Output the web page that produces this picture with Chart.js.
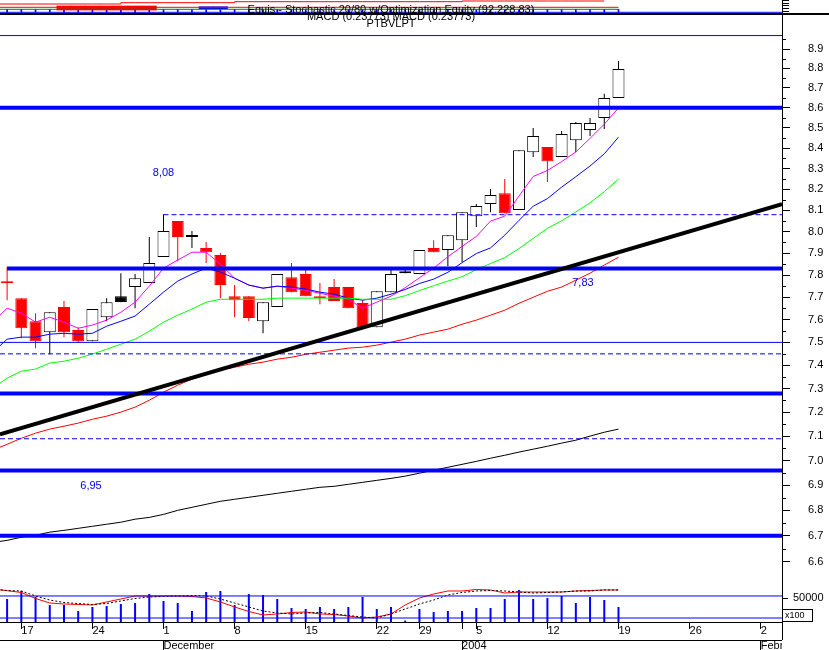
<!DOCTYPE html>
<html>
<head>
<meta charset="utf-8">
<script src="https://cdn.jsdelivr.net/npm/chart.js@4.4.1/dist/chart.umd.min.js"></script>
<style>
  html, body { margin: 0; padding: 0; background: #fff; overflow: hidden; }
  #page { position: relative; width: 829px; height: 650px; overflow: hidden;
          font-family: "Liberation Sans", Arial, sans-serif; }
  canvas { position: absolute; left: 0; }
  .cap { position: absolute; left: 0; width: 782px; text-align: center; font-size: 11px;
         line-height: 12px; color: #000; white-space: nowrap; }
  .rule { position: absolute; background: #000; }
  #x100 { position: absolute; left: 782px; top: 609px; width: 27px; height: 11px; border: 1px solid #000;
          font-size: 9px; line-height: 11px; padding-left: 2px; box-sizing: content-box; }
</style>
</head>
<body>
<div id="page">
  <canvas id="strip" width="829" height="13" style="top:0"></canvas>
  <canvas id="price" width="829" height="568" style="top:16px"></canvas>
  <canvas id="vol" width="829" height="66" style="top:584px"></canvas>
  <div class="rule" style="left:0; top:13px; width:829px; height:2px"></div>
  <div class="rule" style="left:782px; top:0; width:1px; height:640px"></div>
  <div class="cap" style="top:3px">Equis - Stochastic 20/80 w/Optimization Equity (92,228.83)</div>
  <div class="cap" style="top:10px">MACD (0.23773) MACD (0.23773)</div>
  <div class="cap" style="top:17px">PTBVLPT</div>
  <div id="x100">x100</div>
</div>
<script>
// --- trading days shown, then the empty days up to the right edge ---
const dates = ['2003-11-14', '2003-11-17', '2003-11-18', '2003-11-19', '2003-11-20', '2003-11-21',
  '2003-11-24', '2003-11-25', '2003-11-26', '2003-11-27', '2003-11-28',
  '2003-12-01', '2003-12-02', '2003-12-03', '2003-12-04', '2003-12-05',
  '2003-12-08', '2003-12-09', '2003-12-10', '2003-12-11', '2003-12-12',
  '2003-12-15', '2003-12-16', '2003-12-17', '2003-12-18', '2003-12-19',
  '2003-12-22', '2003-12-23', '2003-12-24', '2003-12-29', '2003-12-30', '2003-12-31',
  '2004-01-02', '2004-01-05', '2004-01-06', '2004-01-07', '2004-01-08', '2004-01-09',
  '2004-01-12', '2004-01-13', '2004-01-14', '2004-01-15', '2004-01-16', '2004-01-19'];
const futureDates = ['2004-01-20', '2004-01-21', '2004-01-22', '2004-01-23', '2004-01-26',
  '2004-01-27', '2004-01-28', '2004-01-29', '2004-01-30', '2004-02-02', '2004-02-03'];

const open = [7.764, 7.696, 7.593, 7.545, 7.656, 7.554, 7.505, 7.611, 7.705, 7.746, 7.764,
  7.883, 8.050, 7.975, 7.924, 7.892, 7.705, 7.705, 7.593, 7.656, 7.791, 7.805, 7.700, 7.746,
  7.746, 7.674, 7.567, 7.723, 7.818, 7.805, 7.924, 7.915, 7.961, 8.073, 8.130, 8.182, 8.102,
  8.380, 8.405, 8.356, 8.439, 8.489, 8.549, 8.649];
const high = [7.837, 7.696, 7.629, 7.633, 7.683, 7.567, 7.647, 7.696, 7.809, 7.805, 7.975,
  8.082, 8.050, 8.003, 7.952, 7.901, 7.755, 7.705, 7.678, 7.805, 7.855, 7.823, 7.764, 7.782,
  7.746, 7.687, 7.727, 7.832, 7.832, 7.915, 7.961, 7.984, 8.092, 8.130, 8.202, 8.250, 8.390,
  8.499, 8.405, 8.484, 8.529, 8.549, 8.671, 8.838];
const low = [7.687, 7.518, 7.474, 7.448, 7.523, 7.501, 7.505, 7.593, 7.678, 7.651, 7.764,
  7.883, 7.864, 7.924, 7.855, 7.696, 7.611, 7.593, 7.540, 7.656, 7.723, 7.705, 7.669, 7.683,
  7.651, 7.567, 7.567, 7.723, 7.809, 7.805, 7.905, 7.841, 7.859, 8.022, 8.092, 8.087, 8.102,
  8.356, 8.235, 8.356, 8.380, 8.459, 8.494, 8.649];
const close = [7.763, 7.562, 7.505, 7.633, 7.545, 7.505, 7.647, 7.678, 7.679, 7.786, 7.855,
  8.003, 7.975, 7.984, 7.905, 7.755, 7.687, 7.607, 7.678, 7.805, 7.723, 7.705, 7.696, 7.683,
  7.651, 7.567, 7.727, 7.805, 7.809, 7.915, 7.905, 7.984, 8.092, 8.121, 8.173, 8.087, 8.390,
  8.459, 8.336, 8.469, 8.524, 8.524, 8.649, 8.797];
// volume in hundreds
const volume = [47900, 64600, 52100, 35400, 35400, 22900, 31300, 33300, 37500, 39600,
  58300, 43800, 39600, 22900, 62500, 64600, 35400, 58300, 56300, 47900,
  29200, 27100, 31300, 27100, 31300, 52100, 27100, 31300, 3000, 27100,
  20800, 22900, 22900, 29200, 29200, 47900, 66700, 47900, 50000, 54200,
  39600, 52100, 45800, 31300];

// averages: the first value is for the day before the first candle (off the left edge)
const pinkMav = [7.589, 7.651, 7.629, 7.589, 7.611, 7.589, 7.562, 7.576, 7.598, 7.633, 7.678,
  7.750, 7.832, 7.869, 7.905, 7.905, 7.850, 7.786, 7.755, 7.741, 7.750, 7.741, 7.732, 7.718,
  7.705, 7.691, 7.651, 7.678, 7.705, 7.743, 7.788, 7.832, 7.884, 7.932, 7.978, 8.050, 8.073,
  8.168, 8.262, 8.291, 8.334, 8.381, 8.448, 8.518, 8.599];
const blueMav = [7.457, 7.514, 7.523, 7.523, 7.536, 7.540, 7.536, 7.540, 7.571, 7.593, 7.616,
  7.669, 7.723, 7.773, 7.805, 7.832, 7.814, 7.786, 7.755, 7.741, 7.750, 7.746, 7.737, 7.723,
  7.714, 7.696, 7.687, 7.696, 7.714, 7.735, 7.762, 7.782, 7.813, 7.857, 7.899, 7.925, 7.984,
  8.053, 8.120, 8.156, 8.211, 8.261, 8.313, 8.372, 8.454];
const greenMav = [7.302, 7.345, 7.375, 7.384, 7.410, 7.418, 7.431, 7.449, 7.470, 7.492, 7.514,
  7.549, 7.589, 7.620, 7.647, 7.678, 7.691, 7.691, 7.691, 7.691, 7.696, 7.696, 7.696, 7.696,
  7.696, 7.696, 7.691, 7.691, 7.691, 7.707, 7.730, 7.752, 7.773, 7.793, 7.825, 7.853, 7.880,
  7.922, 7.969, 8.016, 8.051, 8.093, 8.136, 8.189, 8.250];
const redMav = [7.043, 7.067, 7.092, 7.113, 7.130, 7.142, 7.155, 7.171, 7.184, 7.201, 7.222,
  7.251, 7.285, 7.315, 7.341, 7.362, 7.379, 7.392, 7.405, 7.414, 7.427, 7.435, 7.448, 7.457,
  7.466, 7.475, 7.479, 7.488, 7.501, 7.514, 7.532, 7.545, 7.558, 7.580, 7.598, 7.620, 7.642,
  7.673, 7.700, 7.727, 7.746, 7.777, 7.809, 7.846, 7.882];
const blackMav = [6.674, 6.682, 6.694, 6.702, 6.714, 6.721, 6.729, 6.737, 6.745, 6.753, 6.765,
  6.772, 6.784, 6.800, 6.812, 6.824, 6.836, 6.844, 6.852, 6.860, 6.868, 6.876, 6.884, 6.892,
  6.896, 6.904, 6.912, 6.920, 6.928, 6.937, 6.949, 6.961, 6.973, 6.985, 6.997, 7.010, 7.022,
  7.035, 7.047, 7.059, 7.072, 7.084, 7.101, 7.117, 7.130];
const volRed = [68750, 65200, 61500, 49000, 39600, 37500, 36500, 35400, 41700, 47900, 54200,
  54200, 54200, 54200, 53100, 50000, 41700, 31300, 21900, 14600, 16700, 19800, 20800, 16700,
  15600, 12500, 8300, 10400, 16700, 35400, 50000, 58300, 64600, 64600, 67700, 66700, 60400,
  62500, 62500, 62500, 62500, 64600, 65600, 66700, 66700];
const volDotted = [68750, 65600, 64600, 54200, 45800, 40600, 38500, 36500, 38500, 43800, 49000,
  52100, 53100, 54200, 55200, 54200, 47900, 39600, 31300, 22900, 18800, 16700, 18800, 19800,
  16700, 13500, 10400, 8300, 16700, 27100, 37500, 45800, 56300, 61500, 64600, 65600, 64600,
  62500, 60400, 61500, 62500, 64600, 64600, 66700, 66700];

// drawn price levels
const thickLevels = [8.6, 7.83, 7.28, 6.96, 6.7];
const thinLevels = [8.97, 7.5];
const dashedLevels = [8.08, 7.45, 7.09];
const levelStart = { 8.08: '2003-12-01', 7.83: '2003-11-14' };
const trendEnds = [7.108, 8.13];   // trend line value at the left and right edge
const volLevels = [54200, 8300];
const notes = [{ text: '8,08', at: 11, price: 8.279 },
               { text: '7,83', at: 40.5, price: 7.764 },
               { text: '6,95', at: 5.9, price: 6.896 }];

const priceTicks = [6.6, 6.7, 6.8, 6.9, 7.0, 7.1, 7.2, 7.3, 7.4, 7.5, 7.6, 7.7,
  7.8, 7.9, 8.0, 8.1, 8.2, 8.3, 8.4, 8.5, 8.6, 8.7, 8.8, 8.9];
const volTicks = [50000];

// system strip on top (indicator units, no scale shown)
const equity = [9, 9, 9, 9, 9, 9, 9, 9, 9, 10.3, 10.3, 10.3, 10.3, 10.3, 10.3, 10.3, 10.3,
  11.3, 11.3, 11.3, 11.3, 11.3, 11.3, 11.3, 11.3, 11.3, 11.3, 11.3, 11.3, 11.3, 11.3, 11.3, 11.3,
  12, 12, 12, 12, 12, 12, 12, 12, 12, 12, 12];
const redSignal = 5.7;
const greenSignal = 3.7;
const sellBand = ['2003-11-20', '2003-11-21', '2003-11-24', '2003-11-25', '2003-11-26', '2003-11-27', '2003-11-28'];
const buyBand = ['2003-12-04', '2003-12-05'];

/* ---------------------------------------------------------- */
const family = '"Liberation Sans", Arial, sans-serif';
const allDates = dates.concat(futureDates);
const xMin = -0.5, xMax = allDates.length - 0.5;
const weekday = d => new Date(d + 'T00:00:00Z').getUTCDay();
const month = d => d.slice(0, 7);
const monthNames = ['January', 'February', 'March', 'April', 'May', 'June', 'July',
  'August', 'September', 'October', 'November', 'December'];
const monthTicks = allDates.map((d, i) => i).filter(i => i > 0 && month(allDates[i]) !== month(allDates[i - 1]));
const dayTicks = allDates.map((d, i) => i).filter(i => weekday(allDates[i]) === 1 || monthTicks.includes(i));

const tone = close.map((c, i) => (i > 0 && c >= close[i - 1]) ? '#000000' : '#ff0000');
const mav = arr => arr.map((v, i) => ({ x: i - 1, y: v }));
const flat = (v, from) => [{ x: from, y: v }, { x: xMax, y: v }];
const startOf = v => levelStart[v] ? dates.indexOf(levelStart[v]) : xMin;

const base = {
  responsive: false, animation: false, events: [],
  layout: { padding: 0 },
  plugins: { legend: { display: false }, tooltip: { enabled: false } }
};
const hiddenX = { type: 'linear', min: xMin, max: xMax, offset: false, display: false };
const rightFit = s => { s.width = 47; s.paddingTop = 0; s.paddingBottom = 0; };

/* --- top strip --- */
new Chart(document.getElementById('strip'), {
  type: 'line',
  data: { datasets: [
    { data: equity.map((v, i) => ({ x: i - 1, y: v })), stepped: true, borderColor: '#ff0000', borderWidth: 1, pointRadius: 0 },
    { data: flat(redSignal, xMin).map((p, i) => i ? { x: dates.length - 1, y: p.y } : p), borderColor: '#ff0000', borderWidth: 1, pointRadius: 0 },
    { data: flat(greenSignal, xMin).map((p, i) => i ? { x: dates.length - 1, y: p.y } : p), borderColor: '#008000', borderWidth: 1, pointRadius: 0 },
    { data: flat(0.7, xMin), borderColor: '#0000ff', borderWidth: 1, pointRadius: 0 },
    { type: 'bar', grouped: false, data: sellBand.map(d => ({ x: dates.indexOf(d), y: [3, 7] })),
      backgroundColor: '#ff0000', barPercentage: 1, categoryPercentage: 1 },
    { type: 'bar', grouped: false, data: buyBand.map(d => ({ x: dates.indexOf(d), y: [4.3, 6.3] })),
      backgroundColor: '#0000ff', barPercentage: 1, categoryPercentage: 1 },
    { type: 'bar', grouped: false, data: dates.map((d, i) => ({ x: i, y: [0.7, 3.7] })),
      backgroundColor: '#0000ff', barThickness: 1 }
  ] },
  options: { ...base, scales: {
    x: hiddenX,
    y: { position: 'right', min: 0, max: 13, afterFit: rightFit,
         afterBuildTicks: s => { s.ticks = [2, 4.7, 7.3, 9.7, 12].map(v => ({ value: v })); },
         grid: { drawOnChartArea: false, tickLength: 7, color: '#000' },
         border: { color: '#000' }, ticks: { display: false } }
  } }
});

/* --- price pane --- */
const priceExtras = {
  id: 'priceExtras',
  afterDraw(chart) {
    const { ctx, scales: { x, y } } = chart;
    ctx.save();
    ctx.strokeStyle = '#000';
    ctx.lineWidth = 1;
    priceTicks.forEach(t => {
      const py = Math.round(y.getPixelForValue(t + 0.05)) + 0.5;
      ctx.beginPath(); ctx.moveTo(y.left, py); ctx.lineTo(y.left + 4, py); ctx.stroke();
    });
    ctx.fillStyle = '#0000ff';
    ctx.font = '11px ' + family;
    ctx.textAlign = 'center';
    ctx.textBaseline = 'middle';
    notes.forEach(n => ctx.fillText(n.text, x.getPixelForValue(n.at), y.getPixelForValue(n.price)));
    ctx.restore();
  }
};

const line = (data, color, width, order, dash) => ({
  type: 'line', data, borderColor: color, borderWidth: width, borderDash: dash || [],
  pointRadius: 0, tension: 0, order
});

new Chart(document.getElementById('price'), {
  type: 'line',
  data: { datasets: [
    line([{ x: xMin, y: trendEnds[0] }, { x: xMax, y: trendEnds[1] }], '#000000', 4, 0),
    ...thickLevels.map(v => line(flat(v, startOf(v)), '#0000ff', 4, 1)),
    ...thinLevels.map(v => line(flat(v, startOf(v)), '#0000ff', 1, 1)),
    ...dashedLevels.map(v => line(flat(v, startOf(v)), '#0000ff', 1, 1, [5, 3])),
    line(mav(blackMav), '#000000', 1, 2),
    line(mav(redMav), '#ff0000', 1, 2),
    line(mav(greenMav), '#00ff00', 1, 2),
    line(mav(blueMav), '#0000ff', 1, 2),
    line(mav(pinkMav), '#ff00ff', 1, 2),
    { type: 'bar', order: 3, grouped: false,
      data: open.map((o, i) => ({ x: i, y: [o, close[i]] })),
      backgroundColor: open.map((o, i) => close[i] < o ? tone[i] : '#ffffff'),
      borderColor: tone, borderWidth: 1, borderSkipped: false,
      barThickness: 12, minBarLength: 2, inflateAmount: 0 },
    { type: 'bar', order: 4, grouped: false,
      data: low.map((l, i) => ({ x: i, y: [l, high[i]] })),
      backgroundColor: tone, barThickness: 1, inflateAmount: 0 }
  ] },
  options: { ...base, scales: {
    x: hiddenX,
    y: { type: 'logarithmic', position: 'right', min: 6.514, max: 9.073,
         afterFit: rightFit,
         afterBuildTicks: s => { s.ticks = priceTicks.map(v => ({ value: v })); },
         grid: { drawOnChartArea: false, tickLength: 8, color: '#000' },
         border: { color: '#000' },
         ticks: { callback: v => v.toFixed(1), color: '#000', padding: 18,
                  font: { family, size: 11 } } }
  } },
  plugins: [priceExtras]
});

/* --- volume pane and date axis --- */
const cornerClip = {
  id: 'cornerClip',
  beforeDraw(chart) {
    const { ctx, chartArea } = chart;
    ctx.save();
    ctx.beginPath();
    ctx.rect(0, 0, chart.width, chartArea.bottom + 18);
    ctx.rect(0, 0, chartArea.right, chart.height);
    ctx.clip();
  },
  afterDraw(chart) { chart.ctx.restore(); }
};

const bottomFit = h => s => { s.height = h; s.paddingLeft = 0; s.paddingRight = 0; };

new Chart(document.getElementById('vol'), {
  type: 'line',
  data: { datasets: [
    ...volLevels.map(v => line(flat(v, xMin), '#0000ff', 1, 0)),
    line(mav(volDotted), '#000000', 1, 1, [2, 2]),
    line(mav(volRed), '#ff0000', 1, 1),
    { type: 'bar', order: 2, grouped: false, data: volume.map((v, i) => ({ x: i, y: v })),
      backgroundColor: '#0000ff', barThickness: 2, inflateAmount: 0 }
  ] },
  options: { ...base, scales: {
    x: { type: 'linear', min: xMin, max: xMax, offset: false, position: 'bottom', weight: 0,
         afterFit: bottomFit(18),
         afterBuildTicks: s => { s.ticks = dayTicks.map(v => ({ value: v })); },
         grid: { drawOnChartArea: false, tickLength: 7, color: '#000', offset: false },
         border: { color: '#000' },
         ticks: { callback: v => weekday(allDates[v]) === 1 ? String(+allDates[v].slice(8)) : '',
                  align: 'start', padding: -5, color: '#000', maxRotation: 0, autoSkip: false,
                  font: { family, size: 11 } } },
    x2: { type: 'linear', min: xMin, max: xMax, offset: false, position: 'bottom', weight: 1,
          afterFit: bottomFit(10),
          afterBuildTicks: s => { s.ticks = monthTicks.map(v => ({ value: v })); },
          grid: { drawOnChartArea: false, tickLength: 10, color: '#000', offset: false },
          border: { color: '#000' },
          ticks: { callback: v => { const d = allDates[v]; const m = +d.slice(5, 7) - 1;
                                    return m === 0 ? d.slice(0, 4) : monthNames[m]; },
                   align: 'start', padding: -11, color: '#000', maxRotation: 0, autoSkip: false,
                   font: { family, size: 11 } } },
    y: { position: 'right', min: 0, max: 79167, afterFit: rightFit,
         afterBuildTicks: s => { s.ticks = volTicks.map(v => ({ value: v })); },
         grid: { drawOnChartArea: false, tickLength: 6, color: '#000' },
         border: { color: '#000' },
         ticks: { callback: v => String(v), color: '#000', padding: 5, font: { family, size: 11 } } }
  } },
  plugins: [cornerClip]
});
</script>
</body>
</html>
